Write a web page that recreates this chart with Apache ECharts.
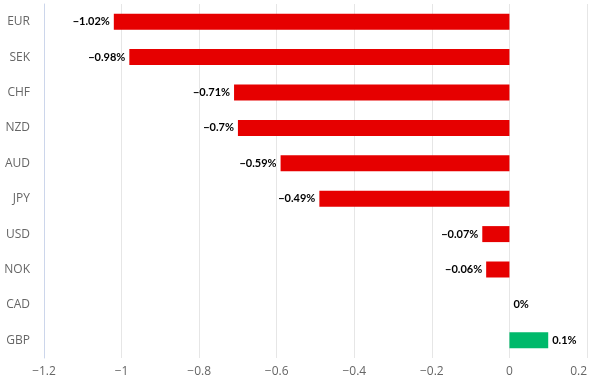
<!DOCTYPE html>
<html><head><meta charset="utf-8">
<script src="https://cdn.jsdelivr.net/npm/echarts@6/dist/echarts.min.js"></script>
<style>html,body{margin:0;padding:0;background:#fff}#c{width:597px;height:385px}</style>
</head><body><div id="c"></div>
<script>
var categories = ['EUR','SEK','CHF','NZD','AUD','JPY','USD','NOK','CAD','GBP'];
var values = [-1.02,-0.98,-0.71,-0.7,-0.59,-0.49,-0.07,-0.06,0,0.1];
var xTicks = [-1.2,-1,-0.8,-0.6,-0.4,-0.2,0,0.2];
function fmt(v){ return String(v).replace('-', '\u2212'); }
var chart = echarts.init(document.getElementById('c'), null, {renderer:'canvas'});
chart.setOption({
  animation:false,
  grid:{left:44,right:10,top:4,bottom:27,containLabel:false},
  xAxis:{type:'value',min:xTicks[0],max:xTicks[xTicks.length-1],interval:0.2,
    axisLine:{show:false},axisTick:{show:false},
    splitLine:{lineStyle:{color:'#e6e6e6'}},
    axisLabel:{color:'#666',fontSize:12,fontFamily:'Open Sans',margin:8,alignMaxLabel:'right',
      formatter:function(v){return fmt(Math.round(v*10)/10);}}},
  yAxis:{type:'category',data:categories,inverse:true,
    axisLine:{onZero:false,lineStyle:{color:'#ccd6eb'}},
    axisTick:{length:10,lineStyle:{color:'#ccd6eb'}},
    axisLabel:{color:'#666',fontSize:12,fontFamily:'Open Sans',margin:14}},
  series:[{type:'bar',barWidth:16,
    data:values.map(function(v){return {value:v,
      itemStyle:{color:v>0?'#00b96b':'#e60000'},
      label:{position:v<0?'left':'right'}};}),
    label:{show:true,fontSize:11,fontWeight:'bold',color:'#000',fontFamily:'Lato',
      textBorderColor:'#fff',textBorderWidth:1.5,distance:4,
      formatter:function(p){return fmt(p.value)+'%';}}}]
});
</script></body></html>
